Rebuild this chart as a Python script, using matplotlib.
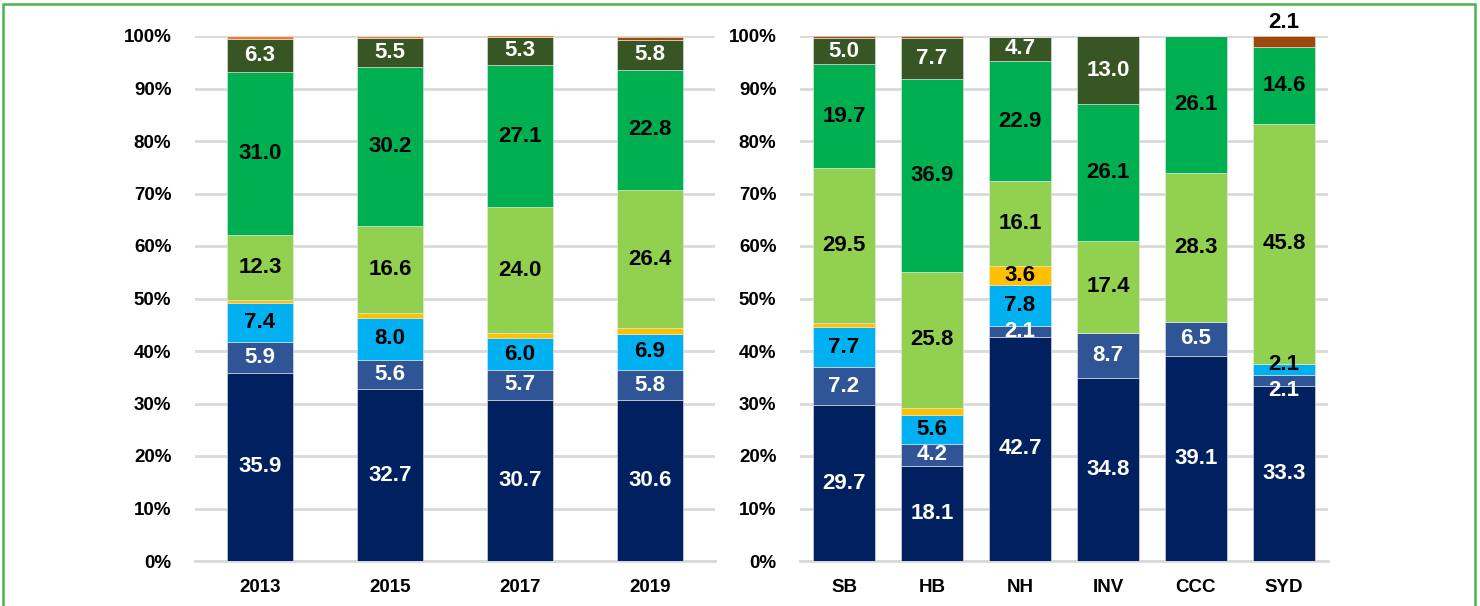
import matplotlib
matplotlib.use('Agg')
import matplotlib.pyplot as plt
from matplotlib import font_manager
from matplotlib.patches import Rectangle
import numpy as np

# Daten (Anteile in %), von unten nach oben gestapelt
years = ['2013', '2015', '2017', '2019']
navy_y = [35.9, 32.7, 30.7, 30.6]
steel_y = [5.9, 5.6, 5.7, 5.8]
sky_y = [7.4, 8.0, 6.0, 6.9]
yellow_y = [0.6, 1.0, 1.0, 1.0]
light_y = [12.3, 16.6, 24.0, 26.4]
green_y = [31.0, 30.2, 27.1, 22.8]
dark_y = [6.3, 5.5, 5.3, 5.8]
orange_y = [0.6, 0.4, 0.3, 0.0]
brown_y = [0.0, 0.0, 0.0, 0.6]

regions = ['SB', 'HB', 'NH', 'INV', 'CCC', 'SYD']
navy_r = [29.7, 18.1, 42.7, 34.8, 39.1, 33.3]
steel_r = [7.2, 4.2, 2.1, 8.7, 6.5, 2.1]
sky_r = [7.7, 5.6, 7.8, 0.0, 0.0, 2.1]
yellow_r = [0.8, 1.3, 3.6, 0.0, 0.0, 0.0]
light_r = [29.5, 25.8, 16.1, 17.4, 28.3, 45.8]
green_r = [19.7, 36.9, 22.9, 26.1, 26.1, 14.6]
dark_r = [5.0, 7.7, 4.7, 13.0, 0.0, 0.0]
orange_r = [0.0, 0.0, 0.0, 0.0, 0.0, 0.0]
brown_r = [0.4, 0.4, 0.0, 0.0, 0.0, 2.1]

colors = ['#002060', '#2F5597', '#00B0F0', '#FFC000', '#92D050',
          '#00B050', '#375623', '#ED7D31', '#9E480E']
text_colors = ['white', 'white', 'black', 'black', 'black',
               'black', 'white', 'black', 'black']

installed = {f.name for f in font_manager.fontManager.ttflist}
fam = 'Liberation Sans Narrow' if 'Liberation Sans Narrow' in installed else 'Liberation Sans'
plt.rcParams['font.family'] = [fam, 'DejaVu Sans']
plt.rcParams['font.weight'] = 'bold'

fig = plt.figure(figsize=(14.8, 6.06), dpi=100)
ax1 = fig.add_axes([195 / 1480, 1 - 561 / 606, 520 / 1480, 525 / 606])
ax2 = fig.add_axes([800 / 1480, 1 - 561 / 606, 528 / 1480, 525 / 606])


def stacked(ax, cats, series, width, special=None):
    x = np.arange(len(cats))
    bottom = np.zeros(len(cats))
    for k, vals in enumerate(series):
        vals = np.array(vals)
        ax.bar(x, vals, width, bottom=bottom, color=colors[k],
               edgecolor='#e8e8e8', linewidth=0.4, zorder=3)
        for i, v in enumerate(vals):
            if v >= 2:
                ypos = bottom[i] + v / 2
                dy = 0
                if special and (k, i) in special:
                    ypos, dy = special[(k, i)]
                ax.annotate(f'{v:.1f}', (x[i], ypos), xytext=(0, dy),
                            textcoords='offset points', ha='center', va='center',
                            fontsize=16, fontweight='bold', color=text_colors[k],
                            zorder=5, annotation_clip=False)
        bottom += vals
    ax.set_xlim(-0.5, len(cats) - 0.5)
    ax.set_ylim(0, 100)
    ax.set_yticks(np.arange(0, 101, 10))
    ax.set_yticklabels([f'{t}%' for t in range(0, 101, 10)])
    ax.set_xticks(x)
    ax.set_xticklabels(cats)
    ax.tick_params(axis='y', length=0, pad=17, labelsize=13.5)
    ax.tick_params(axis='x', length=0, pad=13, labelsize=13.5)
    ax.grid(axis='y', color='#D9D9D9', linewidth=2, zorder=0)
    ax.set_axisbelow(True)
    for s in ['top', 'right', 'left']:
        ax.spines[s].set_visible(False)
    ax.spines['bottom'].set_color('#D9D9D9')
    ax.spines['bottom'].set_linewidth(2)


stacked(ax1, years, [navy_y, steel_y, sky_y, yellow_y, light_y,
                     green_y, dark_y, orange_y, brown_y], 0.51)

# SYD: kleine Segmente mit verschobenen Beschriftungen
syd_special = {(1, 5): (34.35, -7), (2, 5): (36.45, 4), (8, 5): (100, 10)}
stacked(ax2, regions, [navy_r, steel_r, sky_r, yellow_r, light_r,
                       green_r, dark_r, orange_r, brown_r], 0.70, syd_special)

# Rahmen
fig.patches.append(Rectangle((3 / 1480, -0.05), 1472 / 1480, 1.05 - 4 / 606,
                             transform=fig.transFigure, fill=False,
                             edgecolor='#4CB450', linewidth=1.8))

fig.savefig('out.png', dpi=100)
